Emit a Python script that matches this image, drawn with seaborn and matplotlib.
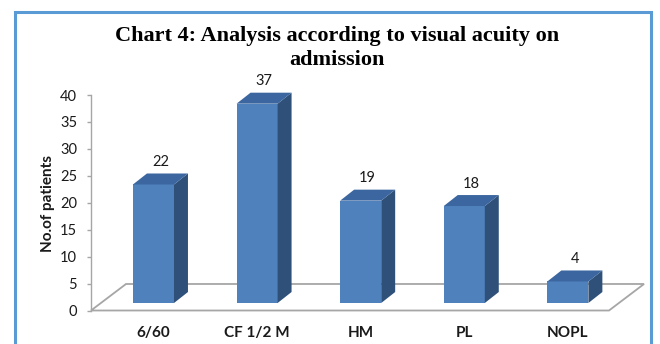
import matplotlib
matplotlib.use("Agg")
import matplotlib.pyplot as plt
import seaborn as sns
import pandas as pd
from matplotlib.patches import Polygon, Rectangle

# Visual acuity on admission
categories = ["6/60", "CF 1/2 M", "HM", "PL", "NOPL"]
patients = [22, 37, 19, 18, 4]
y_ticks = [0, 5, 10, 15, 20, 25, 30, 35, 40]

title_lines = ["Chart 4: Analysis according to visual acuity on", "admission"]
y_label = "No.of patients"

FRONT = "#4F81BD"
SIDE = "#2F5179"
TOP = "#3B66A0"
GRID = "#A6A6A6"
FRAME = "#5B9BD5"

sns.set_theme(style="white")
plt.rcParams["font.family"] = ["Lato", "DejaVu Sans"]

W, H = 660, 344
fig = plt.figure(figsize=(W / 100, H / 100), dpi=100)
fig.patch.set_facecolor("white")

# plot area: x from 91px to 652px, y=0 at 310.5px and y=40 at 95px
ax = fig.add_axes([91 / W, (H - 310.5) / H, (652 - 91) / W, (310.5 - 95) / H])
ax.set_facecolor("none")

df = pd.DataFrame({"category": categories, "patients": patients})
sns.barplot(data=df, x="category", y="patients", color=FRONT, saturation=1,
            width=0.396, ax=ax, zorder=3)

ax.set_xlim(-0.603, 4.812)
ax.set_ylim(0, 40)
ax.set_yticks(y_ticks)

# pseudo-3D geometry (data units)
lift = 1.39             # bars stand slightly behind the front edge of the floor
dx, dy = 0.135, 2.04    # bar depth
fdx, fdy = 0.338, 4.92  # floor depth
x_left, x_right = -0.603, 4.397

floor = Polygon([(x_left, 0), (x_left + fdx, fdy), (x_right + fdx, fdy), (x_right, 0)],
                closed=True, facecolor="none", edgecolor=GRID, lw=1.3,
                zorder=1, clip_on=False)
ax.add_patch(floor)

for p, v in zip(ax.patches[:len(patients)], patients):
    p.set_y(lift)
    p.set_linewidth(0)
    x0, w, h = p.get_x(), p.get_width(), p.get_height()
    top = lift + h
    side = Polygon([(x0 + w, lift), (x0 + w + dx, lift + dy),
                    (x0 + w + dx, top + dy), (x0 + w, top)],
                   closed=True, facecolor=SIDE, edgecolor="none", zorder=3, clip_on=False)
    cap = Polygon([(x0, top), (x0 + dx, top + dy), (x0 + w + dx, top + dy), (x0 + w, top)],
                  closed=True, facecolor=TOP, edgecolor="none", zorder=3, clip_on=False)
    ax.add_patch(side)
    ax.add_patch(cap)
    ax.annotate(f"{v}", xy=(x0 + w / 2 + dx / 2, top), xytext=(0, 11),
                textcoords="offset points", ha="center", va="bottom",
                fontsize=10.5, color="#1a1a1a", annotation_clip=False)

for s in ["top", "right", "bottom"]:
    ax.spines[s].set_visible(False)
ax.spines["left"].set_color(GRID)
ax.spines["left"].set_linewidth(1.0)

ax.tick_params(axis="y", which="major", left=True, length=3, width=1, color=GRID,
               pad=7, labelsize=10.5, labelcolor="#1a1a1a")
ax.tick_params(axis="x", which="major", bottom=False, length=0, pad=11,
               labelsize=11, labelcolor="#1a1a1a")
for t in ax.get_xticklabels():
    t.set_fontweight("bold")
ax.set_xlabel("")
ax.set_ylabel("")

fig.text(48 / W, 1 - 203 / H, y_label, rotation=90, ha="center", va="center",
         fontsize=11, fontweight="bold", color="#1a1a1a")

for line, base in zip(title_lines, [41, 65]):
    fig.text(337 / W, 1 - base / H, line, ha="center", va="baseline",
             fontsize=16, fontweight="bold", family=["Liberation Serif", "DejaVu Serif"],
             color="#000000")

# chart frame (runs past the lower edge of the image)
frame = Rectangle((15 / W, -20 / H), (651 - 15) / W, (H - 11.5 + 20) / H,
                  transform=fig.transFigure, facecolor="none", edgecolor=FRAME,
                  lw=2.2, zorder=0)
fig.patches.append(frame)

fig.savefig("out.png", dpi=100, facecolor="white")
